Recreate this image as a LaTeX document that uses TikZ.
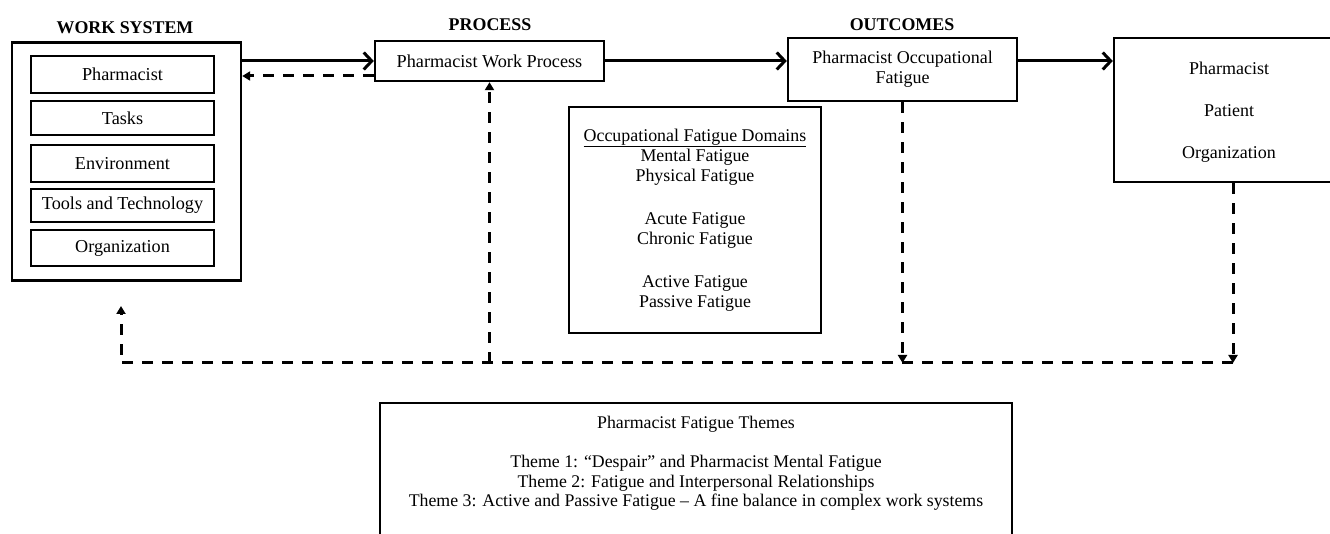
\documentclass[tikz,border=0pt]{standalone}
\usepackage{fontspec}
\setmainfont{Liberation Serif}
\usetikzlibrary{arrows.meta}
\begin{document}
\begin{tikzpicture}[x=1pt,y=-1pt,
  txt/.style={font=\fontsize{18}{20}\selectfont, inner sep=0pt, align=center},
  thtxt/.style={font=\fontsize{17.8}{20}\selectfont, inner sep=0pt, align=center},
  title/.style={font=\fontsize{17.9}{20}\selectfont\bfseries, inner sep=0pt},
  bigbox/.style={draw, line width=2.4pt, rectangle, inner sep=0pt, align=center, font=\fontsize{18}{20}\selectfont},
  smallbox/.style={draw, line width=1.3pt, rectangle, inner sep=0pt, minimum width=183pt, font=\fontsize{18.2}{20}\selectfont},
  solidarrow/.style={line width=3pt, -{Straight Barb[length=8pt,width=17pt]}},
  dashline/.style={line width=3pt, dash pattern=on 11pt off 9pt},
  dasharrow/.style={dashline, -{Triangle[length=8pt,width=9pt]}}
]
\useasboundingbox (0,0) rectangle (1330,534);
\clip (0,0) rectangle (1330,534);

% titles
\node[title] (tws) at (125,28) {WORK SYSTEM};
\node[title] (tpr) at (490,25) {PROCESS};
\node[title] (tout) at (902,25) {OUTCOMES};

% work system
\node[bigbox, minimum width=229pt, minimum height=238pt] (ws) at (126.5,161.5) {};
\node[smallbox, minimum height=37pt] (ws1) at (122.5,74.5) {Pharmacist};
\node[smallbox, minimum height=34pt] (ws2) at (122.5,118) {Tasks};
\node[smallbox, minimum height=37pt] (ws3) at (122.5,163.5) {Environment};
\node[smallbox, minimum height=33pt] (ws4) at (122.5,205.5) {Tools and Technology};
\node[smallbox, minimum height=36pt] (ws5) at (122.5,248) {Organization};

% process
\node[bigbox, minimum width=229pt, minimum height=40pt, font=\fontsize{18.2}{20}\selectfont] (proc) at (489.5,61) {Pharmacist Work Process};

% outcomes
\node[bigbox, minimum width=229pt, minimum height=63pt] (out) at (902.5,69.5) {Pharmacist Occupational\\Fatigue};

% result box
\node[bigbox, minimum width=230pt, minimum height=144pt] (res) at (1229,110) {};
\node[txt] (r1) at (1229,68) {Pharmacist};
\node[txt] (r2) at (1229,111) {Patient};
\node[txt] (r3) at (1229,154) {Organization};

% domains
\node[bigbox, minimum width=252pt, minimum height=226pt, font=\fontsize{17.9}{20}\selectfont] (dom) at (695,220)
  {\underline{Occupational Fatigue Domains}\\ Mental Fatigue\\ Physical Fatigue\\[23pt]
   Acute Fatigue\\ Chronic Fatigue\\[23pt] Active Fatigue\\ Passive Fatigue};

% themes
\node[bigbox, minimum width=632pt, minimum height=170pt] (thm) at (696,488) {};
\node[thtxt] (th0) at (696,424) {Pharmacist Fatigue Themes};
\node[thtxt] (th1) at (696,463) {Theme 1: ``Despair'' and Pharmacist Mental Fatigue};
\node[thtxt] (th2) at (696,483) {Theme 2: Fatigue and Interpersonal Relationships};
\node[thtxt] (th3) at (696,502) {Theme 3: Active and Passive Fatigue -- A fine balance in complex work systems};

% forward arrows
\draw[solidarrow] (proc.west -| ws.east) -- (proc.west);
\draw[dasharrow] ([yshift=-15pt]proc.west) -- ([yshift=-15pt]proc.west -| ws.east);
\draw[solidarrow] (proc.east) -- (proc.east -| out.west);
\draw[solidarrow] ([yshift=8.5pt]out.east) -- ([yshift=8.5pt]out.east -| res.west);

% feedback
\coordinate (fbR) at (1233,363);
\coordinate (fbO) at (out.south |- fbR);
\coordinate (fbL) at (121,363);
\coordinate (fbLtop) at (121,306);
\coordinate (fbP) at (proc.south |- fbR);
\draw[dasharrow] (res.south -| fbR) -- (fbR);
\draw[dasharrow] (out.south) -- (fbO);
\draw[dasharrow] (fbR) -- (fbL) -- (fbLtop);
\draw[dasharrow] (fbP) -- (proc.south);
\end{tikzpicture}
\end{document}
